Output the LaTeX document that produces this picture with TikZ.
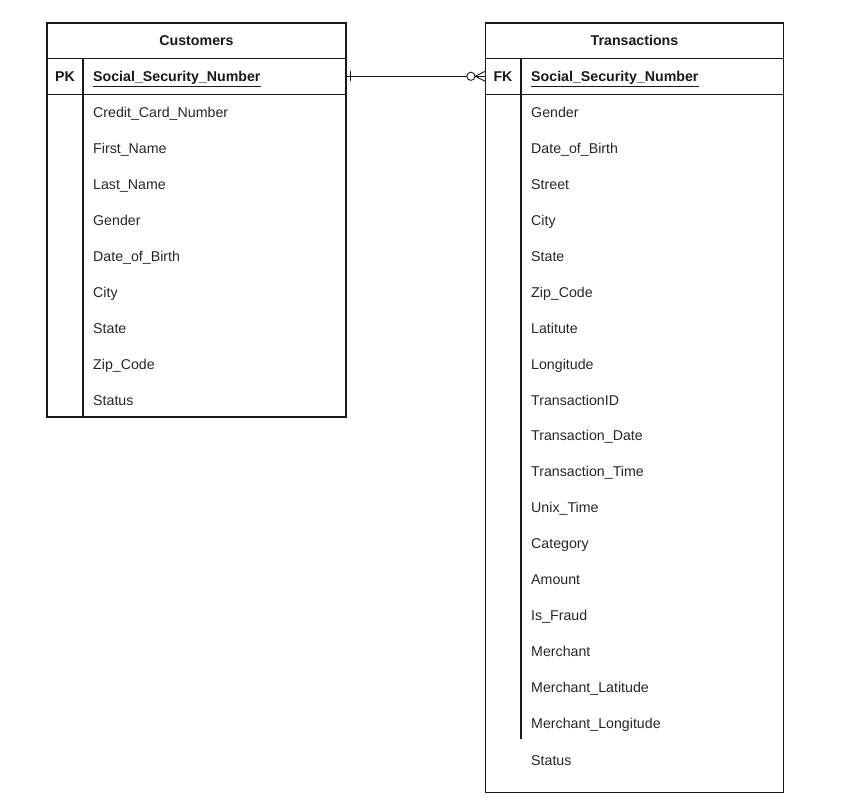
\documentclass[tikz,border=0pt]{standalone}
\usepackage{fontspec}
\setmainfont{Liberation Sans}
\begin{document}
\begin{tikzpicture}[x=1pt,y=-1pt,
  frame/.style={draw=black!90, line width=1.1pt, inner sep=0pt, outer sep=0pt, rectangle},
  ln/.style={draw=black!90, line width=1.1pt},
  thin/.style={draw=black!90, line width=0.9pt},
  txt/.style={anchor=base west, inner sep=0pt, text=black!85, font=\fontsize{14.2}{16}\selectfont},
  hdr/.style={anchor=base, inner sep=0pt, text=black!90, font=\fontsize{14.2}{16}\selectfont\bfseries}]
\useasboundingbox (0,0) rectangle (842,802);
% Customers table
\node[frame, minimum width=299pt, minimum height=394pt, anchor=north west] (cust) at (47,23) {};
\node[frame, minimum width=299pt, minimum height=36pt, anchor=north west] (custpk) at (47,58.3) {};
\draw[ln] (83,58.3) -- (83,417);
\node[hdr] (custtitle) at (196.5,46) {Customers};
\node[hdr] (custpklabel) at (65,82) {PK};
\node[txt, font=\fontsize{14.2}{16}\selectfont\bfseries, text=black!90] (custssn) at (93,82) {\underline{Social\_Security\_Number}};
\foreach \t [count=\i from 0] in {Credit\_Card\_Number,First\_Name,Last\_Name,Gender,Date\_of\_Birth,City,State,Zip\_Code,Status}
  \node[txt] (c\i) at (93,{117.8+35.9*\i}) {\t};
% Transactions table
\node[frame, minimum width=298.5pt, minimum height=769.7pt, anchor=north west] (trans) at (485.3,23) {};
\node[frame, minimum width=298.5pt, minimum height=36pt, anchor=north west] (transpk) at (485.3,58.3) {};
\draw[ln] (521,58.3) -- (521,739);
\node[hdr] (transtitle) at (634.5,46) {Transactions};
\node[hdr] (transfklabel) at (503,82) {FK};
\node[txt, font=\fontsize{14.2}{16}\selectfont\bfseries, text=black!90] (transssn) at (531,82) {\underline{Social\_Security\_Number}};
\foreach \t [count=\i from 0] in {Gender,Date\_of\_Birth,Street,City,State,Zip\_Code,Latitute,Longitude,TransactionID,Transaction\_Date,Transaction\_Time,Unix\_Time,Category,Amount,Is\_Fraud,Merchant,Merchant\_Latitude,Merchant\_Longitude}
  \node[txt] (t\i) at (531,{117.8+35.9*\i}) {\t};
\node[txt] (tstatus) at (531,765.5) {Status};
% Relationship
\draw[thin] (custpk.east) -- ([xshift=-18.5pt]transpk.west);
\draw[thin] ([xshift=4pt,yshift=5pt]custpk.east) -- ([xshift=4pt,yshift=-5pt]custpk.east);
\draw[thin] ([xshift=-14.4pt]transpk.west) circle (4.1pt);
\draw[thin] ([yshift=5pt]transpk.west) -- ([xshift=-10pt]transpk.west) -- ([yshift=-5pt]transpk.west);
\draw[thin] ([xshift=-10pt]transpk.west) -- (transpk.west);
\end{tikzpicture}
\end{document}
